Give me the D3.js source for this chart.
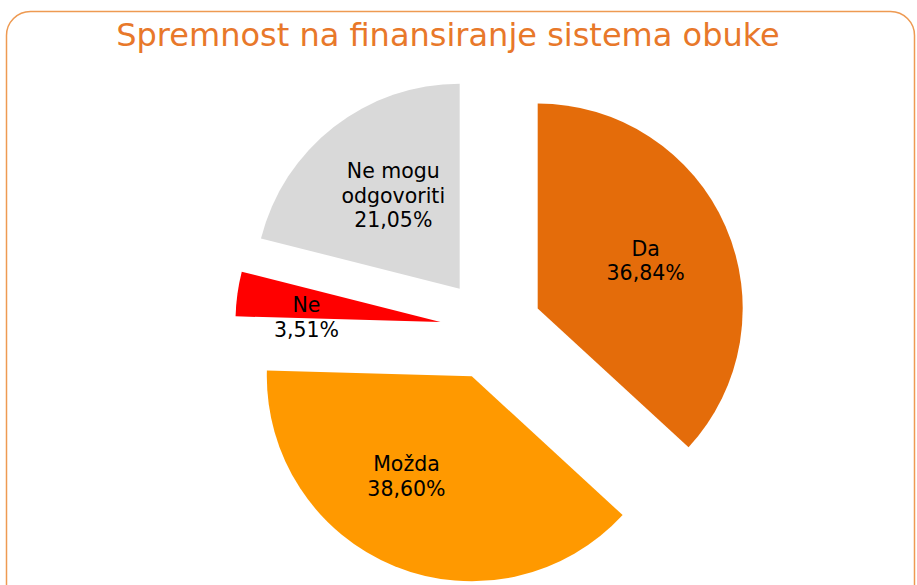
<!DOCTYPE html>
<html>
<head>
<meta charset="utf-8">
<script src="https://cdn.jsdelivr.net/npm/d3@7"></script>
<style>
  body { margin: 0; background: #fff; }
  svg { display: block; font-family: "DejaVu Sans", Verdana, sans-serif; }
</style>
</head>
<body>
<svg id="chart"></svg>
<script>
// data
var categories = ["Da", "Možda", "Ne", "Ne mogu odgovoriti"];
var labelLines = [["Da"], ["Možda"], ["Ne"], ["Ne mogu", "odgovoriti"]];
var values = [36.84, 38.60, 3.51, 21.05];
var colors = ["#E46C0A", "#FF9900", "#FF0000", "#D9D9D9"];
var title = "Spremnost na finansiranje sistema obuke";

var width = 917, height = 585;
var cx = 491, cy = 329, radius = 205, explode = 51;

var svg = d3.select("#chart").attr("width", width).attr("height", height);

// frame
svg.append("rect")
  .attr("x", 6.5).attr("y", 11.5)
  .attr("width", 908).attr("height", 620)
  .attr("rx", 24).attr("ry", 24)
  .attr("fill", "none")
  .attr("stroke", "#EE9A52")
  .attr("stroke-width", 1.5);

svg.append("text")
  .attr("x", 448).attr("y", 46)
  .attr("text-anchor", "middle")
  .attr("fill", "#E8782A")
  .style("font-size", "32px")
  .text(title);

var data = categories.map(function(c, i) {
  return { name: c, lines: labelLines[i], value: values[i], color: colors[i] };
});

var pie = d3.pie().sort(null).value(function(d) { return d.value; });
var arc = d3.arc().innerRadius(0).outerRadius(radius);
var arcs = pie(data);

var g = svg.append("g").attr("transform", "translate(" + cx + "," + cy + ")");

var slice = g.selectAll("g.slice")
  .data(arcs)
  .enter().append("g")
  .attr("class", "slice")
  .attr("transform", function(d) {
    var a = (d.startAngle + d.endAngle) / 2;
    return "translate(" + (Math.sin(a) * explode) + "," + (-Math.cos(a) * explode) + ")";
  });

slice.append("path")
  .attr("d", arc)
  .attr("fill", function(d) { return d.data.color; });

var fmt = function(v) { return v.toFixed(2).replace(".", ",") + "%"; };

// small nudges so labels sit where excel put them
var nudge = { "Možda": [-21, -9], "Ne mogu odgovoriti": [6, 0], "Ne": [0, 14] };

slice.each(function(d) {
  var a = (d.startAngle + d.endAngle) / 2;
  var small = (d.endAngle - d.startAngle) < 0.3;
  var lr = radius * (small ? 0.66 : 0.575);
  var n = nudge[d.data.name] || [0, 0];
  var x = Math.sin(a) * lr + n[0];
  var y = -Math.cos(a) * lr + n[1];
  var lines = d.data.lines.concat([fmt(d.data.value)]);
  var lh = 24.5;
  var t = d3.select(this).append("text")
    .attr("text-anchor", "middle")
    .attr("fill", "#000")
    .style("font-size", "20.5px");
  lines.forEach(function(s, i) {
    t.append("tspan")
      .attr("x", x)
      .attr("y", y + (i - (lines.length - 1) / 2) * lh + 7)
      .text(s);
  });
});
</script>
</body>
</html>
